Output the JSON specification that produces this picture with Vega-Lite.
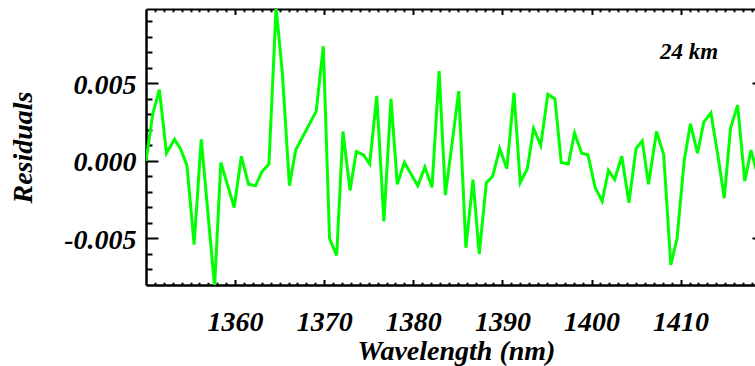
{
  "$schema": "https://vega.github.io/schema/vega-lite/v6.json",
  "width": 609,
  "height": 276,
  "autosize": {"type": "none"},
  "padding": {"left": 146, "top": 9, "right": 0, "bottom": 81},
  "background": "white",
  "config": {
    "view": {"stroke": null},
    "axis": {
      "grid": false,
      "labelFont": "Liberation Serif",
      "labelFontStyle": "italic",
      "labelFontWeight": "bold",
      "labelFontSize": 28,
      "labelColor": "black",
      "titleFont": "Liberation Serif",
      "titleFontStyle": "italic",
      "titleFontWeight": "bold",
      "titleFontSize": 28,
      "titleColor": "black",
      "tickColor": "black",
      "tickWidth": 2,
      "domainColor": "black",
      "domainWidth": 2.5,
      "labelFlush": false,
      "labelOverlap": false
    }
  },
  "datasets": {
    "resid": [
      {"wl": 1350.0, "r": 0.0000},
      {"wl": 1350.75, "r": 0.0030},
      {"wl": 1351.5, "r": 0.0046},
      {"wl": 1352.3, "r": 0.0005},
      {"wl": 1353.2, "r": 0.0014},
      {"wl": 1353.9, "r": 0.00075},
      {"wl": 1354.6, "r": -0.0003},
      {"wl": 1355.4, "r": -0.0054},
      {"wl": 1356.2, "r": 0.0014},
      {"wl": 1357.7, "r": -0.0081},
      {"wl": 1358.4, "r": -0.0001},
      {"wl": 1359.9, "r": -0.0030},
      {"wl": 1360.7, "r": 0.0003},
      {"wl": 1361.5, "r": -0.0015},
      {"wl": 1362.3, "r": -0.0016},
      {"wl": 1363.0, "r": -0.0007},
      {"wl": 1363.8, "r": -0.0002},
      {"wl": 1364.6, "r": 0.0099},
      {"wl": 1365.3, "r": 0.0057},
      {"wl": 1366.1, "r": -0.0016},
      {"wl": 1366.8, "r": 0.0007},
      {"wl": 1369.1, "r": 0.0032},
      {"wl": 1369.9, "r": 0.0074},
      {"wl": 1370.6, "r": -0.0050},
      {"wl": 1371.4, "r": -0.0061},
      {"wl": 1372.1, "r": 0.0019},
      {"wl": 1372.9, "r": -0.0019},
      {"wl": 1373.6, "r": 0.0006},
      {"wl": 1374.4, "r": 0.0004},
      {"wl": 1375.1, "r": -0.0002},
      {"wl": 1375.9, "r": 0.0042},
      {"wl": 1376.7, "r": -0.0039},
      {"wl": 1377.5, "r": 0.0040},
      {"wl": 1378.2, "r": -0.0015},
      {"wl": 1379.0, "r": -0.0001},
      {"wl": 1380.5, "r": -0.0016},
      {"wl": 1381.3, "r": -0.0004},
      {"wl": 1382.1, "r": -0.0017},
      {"wl": 1382.9, "r": 0.0058},
      {"wl": 1383.6, "r": -0.0022},
      {"wl": 1385.1, "r": 0.0045},
      {"wl": 1385.9, "r": -0.0056},
      {"wl": 1386.7, "r": -0.0012},
      {"wl": 1387.4, "r": -0.0060},
      {"wl": 1388.2, "r": -0.0014},
      {"wl": 1388.9, "r": -0.0010},
      {"wl": 1389.7, "r": 0.0008},
      {"wl": 1390.5, "r": -0.0005},
      {"wl": 1391.3, "r": 0.0044},
      {"wl": 1392.0, "r": -0.0014},
      {"wl": 1392.8, "r": -0.0005},
      {"wl": 1393.5, "r": 0.0021},
      {"wl": 1394.3, "r": 0.0010},
      {"wl": 1395.1, "r": 0.0043},
      {"wl": 1395.9, "r": 0.0040},
      {"wl": 1396.6, "r": -0.0001},
      {"wl": 1397.4, "r": -0.0002},
      {"wl": 1398.1, "r": 0.0018},
      {"wl": 1398.9, "r": 0.0005},
      {"wl": 1399.6, "r": 0.0004},
      {"wl": 1400.4, "r": -0.0017},
      {"wl": 1401.2, "r": -0.0026},
      {"wl": 1401.9, "r": -0.0006},
      {"wl": 1402.6, "r": -0.0012},
      {"wl": 1403.4, "r": 0.0003},
      {"wl": 1404.2, "r": -0.0027},
      {"wl": 1405.0, "r": 0.0008},
      {"wl": 1405.7, "r": 0.0013},
      {"wl": 1406.4, "r": -0.0015},
      {"wl": 1407.3, "r": 0.0019},
      {"wl": 1408.1, "r": 0.0004},
      {"wl": 1408.9, "r": -0.0067},
      {"wl": 1409.6, "r": -0.0050},
      {"wl": 1410.4, "r": 0.0000},
      {"wl": 1411.1, "r": 0.0024},
      {"wl": 1411.9, "r": 0.0005},
      {"wl": 1412.6, "r": 0.0025},
      {"wl": 1413.4, "r": 0.0031},
      {"wl": 1414.2, "r": 0.0003},
      {"wl": 1414.9, "r": -0.0024},
      {"wl": 1415.6, "r": 0.0021},
      {"wl": 1416.4, "r": 0.0036},
      {"wl": 1417.2, "r": -0.0013},
      {"wl": 1417.9, "r": 0.0007},
      {"wl": 1418.6, "r": -0.0008}
    ],
    "note": [
      {"wl": 1407.7, "r": 0.0066, "label": "24 km"}
    ]
  },
  "resolve": {"axis": {"x": "independent", "y": "independent"}},
  "layer": [
    {
      "data": {"name": "resid"},
      "mark": {"type": "line", "color": "#00ff00", "strokeWidth": 3, "clip": true},
      "encoding": {
        "x": {"field": "wl", "type": "quantitative",
          "scale": {"domain": [1350, 1418.35], "nice": false, "zero": false},
          "axis": {"orient": "bottom", "values": [1360, 1370, 1380, 1390, 1400, 1410], "format": "d",
            "tickSize": -5.5, "labelPadding": 29, "title": "Wavelength (nm)", "titlePadding": 1, "titleX": 310}},
        "y": {"field": "r", "type": "quantitative",
          "scale": {"domain": [-0.008, 0.0098], "nice": false, "zero": false},
          "axis": {"orient": "left", "values": [-0.005, 0, 0.005],
            "labelExpr": "datum.value < 0 ? '-' + format(-datum.value, '.3f') : format(datum.value, '.3f')",
            "tickSize": -12, "labelPadding": 22, "labelOffset": 2, "title": "Residuals", "titlePadding": 26}}
      }
    },
    {
      "data": {"name": "resid"},
      "mark": {"type": "line", "strokeOpacity": 0},
      "encoding": {
        "x": {"field": "wl", "type": "quantitative",
          "scale": {"domain": [1350, 1418.35], "nice": false, "zero": false},
          "axis": {"orient": "bottom", "values": [1351,1352,1353,1354,1355,1356,1357,1358,1359,1361,1362,1363,1364,1365,1366,1367,1368,1369,1371,1372,1373,1374,1375,1376,1377,1378,1379,1381,1382,1383,1384,1385,1386,1387,1388,1389,1391,1392,1393,1394,1395,1396,1397,1398,1399,1401,1402,1403,1404,1405,1406,1407,1408,1409,1411,1412,1413,1414,1415,1416,1417,1418],
            "tickSize": -2.8, "labels": false, "domain": false, "title": null}},
        "y": {"field": "r", "type": "quantitative",
          "scale": {"domain": [-0.008, 0.0098], "nice": false, "zero": false},
          "axis": {"orient": "left", "values": [-0.007, -0.006, -0.004, -0.003, -0.002, -0.001, 0.001, 0.002, 0.003, 0.004, 0.006, 0.007, 0.008, 0.009],
            "tickSize": -6, "labels": false, "domain": false, "title": null}}
      }
    },
    {
      "data": {"name": "resid"},
      "mark": {"type": "line", "strokeOpacity": 0},
      "encoding": {
        "x": {"field": "wl", "type": "quantitative",
          "scale": {"domain": [1350, 1418.35], "nice": false, "zero": false},
          "axis": {"orient": "top", "values": [1360, 1370, 1380, 1390, 1400, 1410],
            "tickSize": -5.5, "labels": false, "domain": true, "domainWidth": 2, "title": null}},
        "y": {"field": "r", "type": "quantitative",
          "scale": {"domain": [-0.008, 0.0098], "nice": false, "zero": false},
          "axis": {"orient": "right", "values": [-0.005, 0.005],
            "tickSize": -3, "labels": false, "domain": false, "title": null}}
      }
    },
    {
      "data": {"name": "resid"},
      "mark": {"type": "line", "strokeOpacity": 0},
      "encoding": {
        "x": {"field": "wl", "type": "quantitative",
          "scale": {"domain": [1350, 1418.35], "nice": false, "zero": false},
          "axis": {"orient": "top", "values": [1351,1352,1353,1354,1355,1356,1357,1358,1359,1361,1362,1363,1364,1365,1366,1367,1368,1369,1371,1372,1373,1374,1375,1376,1377,1378,1379,1381,1382,1383,1384,1385,1386,1387,1388,1389,1391,1392,1393,1394,1395,1396,1397,1398,1399,1401,1402,1403,1404,1405,1406,1407,1408,1409,1411,1412,1413,1414,1415,1416,1417,1418],
            "tickSize": -2.8, "labels": false, "domain": false, "title": null}},
        "y": {"field": "r", "type": "quantitative",
          "scale": {"domain": [-0.008, 0.0098], "nice": false, "zero": false},
          "axis": null}
      }
    },
    {
      "mark": {"type": "rule", "color": "#ff0000", "strokeWidth": 2},
      "encoding": {
        "y": {"datum": 0, "type": "quantitative",
          "scale": {"domain": [-0.008, 0.0098], "nice": false, "zero": false},
          "axis": null}
      }
    },
    {
      "data": {"name": "note"},
      "mark": {"type": "text", "align": "left", "baseline": "alphabetic", "font": "Liberation Serif", "fontStyle": "italic", "fontWeight": "bold", "fontSize": 23, "color": "black"},
      "encoding": {
        "x": {"field": "wl", "type": "quantitative",
          "scale": {"domain": [1350, 1418.35], "nice": false, "zero": false}, "axis": null},
        "y": {"field": "r", "type": "quantitative",
          "scale": {"domain": [-0.008, 0.0098], "nice": false, "zero": false}, "axis": null},
        "text": {"field": "label"}
      }
    }
  ]
}
